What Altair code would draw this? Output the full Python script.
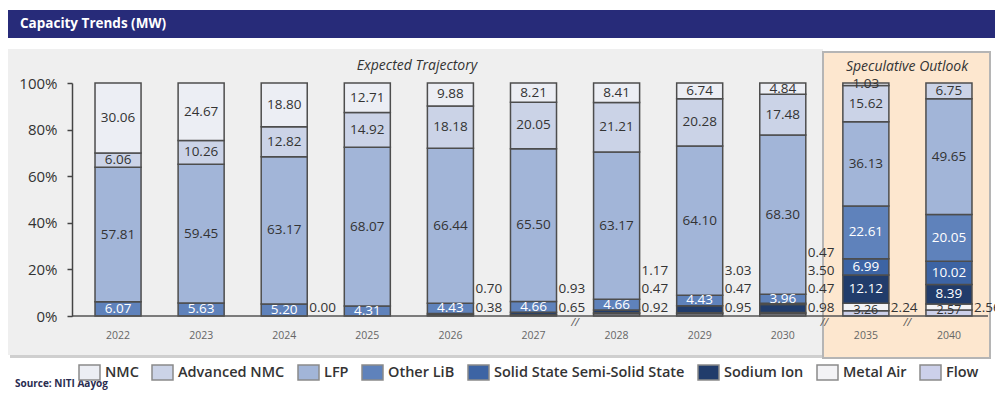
import altair as alt
import pandas as pd

# ---------------- data ----------------
years = ["2022", "2023", "2024", "2025", "2026", "2027", "2028", "2029", "2030", "2035", "2040"]
series = ["NMC", "Advanced NMC", "LFP", "Other LiB", "Solid State Semi-Solid State",
          "Sodium Ion", "Metal Air", "Flow"]
colors = ["#eceef4", "#cbd3e7", "#a2b5d8", "#5f82bb", "#3d64a4", "#213c6b", "#f3f3f6", "#ccd0ea"]

nmc = [30.06, 24.67, 18.80, 12.71, 9.88, 8.21, 8.41, 6.74, 4.84, 1.03, None]
adv_nmc = [6.06, 10.26, 12.82, 14.92, 18.18, 20.05, 21.21, 20.28, 17.48, 15.62, 6.75]
lfp = [57.81, 59.45, 63.17, 68.07, 66.44, 65.50, 63.17, 64.10, 68.30, 36.13, 49.65]
other_lib = [6.07, 5.63, 5.20, 4.31, 4.43, 4.66, 4.66, 4.43, 3.96, 22.61, 20.05]
solid_state = [None, None, None, None, None, None, None, None, 0.47, 6.99, 10.02]
sodium_ion = [None, None, None, None, 0.70, 0.93, 1.17, 3.03, 3.50, 12.12, 8.39]
metal_air = [None, None, None, None, None, None, 0.47, 0.47, 0.47, 3.26, 2.57]
flow = [None, None, 0.00, None, 0.38, 0.65, 0.92, 0.95, 0.98, 2.24, 2.56]

break_after = ["2027", "2030", "2035"]

values_by_series = [nmc, adv_nmc, lfp, other_lib, solid_state, sodium_ion, metal_air, flow]
small_series = {"Solid State Semi-Solid State", "Sodium Ion", "Metal Air", "Flow"}
light_series = {"Other LiB", "Solid State Semi-Solid State", "Sodium Ion"}

rows = []
for s_idx, (name, vals) in enumerate(zip(series, values_by_series)):
    for yr, v in zip(years, vals):
        if v is None:
            continue
        rows.append({
            "year": yr, "series": name, "value": v,
            "rank": len(series) - 1 - s_idx,
            "label": f"{v:.2f}",
            "outside": bool(name == "Flow" or (int(yr) <= 2030 and name in small_series)),
            "light": name in light_series,
            "low": name == "Metal Air",
        })
df = pd.DataFrame(rows)
df = df.sort_values(["year", "rank"]).reset_index(drop=True)
df["slot"] = 0
out_mask = df["outside"]
df.loc[out_mask, "slot"] = df[out_mask].groupby("year").cumcount()

FONT = "Open Sans"

# ---------------- decorations ----------------
one = alt.Chart(pd.DataFrame({"k": [0]}))

header = one.mark_rect(color="#272b79").encode(
    x=alt.value(-64), x2=alt.value(923), y=alt.value(-73), y2=alt.value(-45))
header_text = one.mark_text(align="left", baseline="middle", color="white",
                            fontWeight="bold", fontSize=13.5, font=FONT).encode(
    x=alt.value(-52), y=alt.value(-59), text=alt.value("Capacity Trends (MW)"))

shadow = one.mark_rect(color="#cfcfcf").encode(
    x=alt.value(-62), x2=alt.value(753), y=alt.value(-32), y2=alt.value(275))
gray_panel = one.mark_rect(color="#efefef").encode(
    x=alt.value(-64), x2=alt.value(751), y=alt.value(-34), y2=alt.value(272))
peach_panel = one.mark_rect(fill="#fde7cf", stroke="#b5b5b5", strokeWidth=2).encode(
    x=alt.value(751), x2=alt.value(918), y=alt.value(-31), y2=alt.value(275))

exp_text = one.mark_text(fontStyle="italic", fontSize=14, font=FONT, color="#333").encode(
    x=alt.value(345), y=alt.value(-17), text=alt.value("Expected Trajectory"))
spec_text = one.mark_text(fontStyle="italic", fontSize=14, font=FONT, color="#333").encode(
    x=alt.value(835), y=alt.value(-16), text=alt.value("Speculative Outlook"))
source_text = one.mark_text(align="left", baseline="middle", fontWeight="bold", fontSize=10,
                            font=FONT, color="#2a2c50").encode(
    x=alt.value(-57), y=alt.value(301), text=alt.value("Source: NITI Aayog"))

baseline = one.mark_rule(color="#555555", strokeWidth=1.5).encode(
    x=alt.value(0), x2=alt.value(916), y=alt.value(233))

# ---------------- bars ----------------
xenc = alt.X("year:N", sort=years,
             scale=alt.Scale(paddingInner=0.446, paddingOuter=0.277),
             axis=alt.Axis(title=None, labelAngle=0, domain=False, ticks=False,
                           labelFontSize=10.5, labelColor="#666", labelPadding=14,
                           labelFont=FONT, zindex=1))

stacked = alt.Chart(df).transform_stack(
    stack="value", groupby=["year"],
    sort=[alt.SortField("rank", order="ascending")], as_=["v0", "v1"])

bars = stacked.mark_bar(stroke="#4d4d4d", strokeWidth=1.5).encode(
    x=xenc,
    y=alt.Y("v0:Q", scale=alt.Scale(domain=[0, 100], nice=False),
            axis=alt.Axis(title=None, values=[0, 20, 40, 60, 80, 100],
                          labelExpr="datum.value + '%'", tickSize=5, tickColor="#444",
                          domainColor="#444", domainWidth=1.5, tickWidth=1.5,
                          labelFontSize=15, labelColor="#333", labelPadding=10,
                          grid=False, labelFont=FONT, zindex=1)),
    y2="v1:Q",
    color=alt.Color("series:N", scale=alt.Scale(domain=series, range=colors),
                    legend=alt.Legend(orient="none", legendX=9, legendY=281,
                                      direction="horizontal", title=None,
                                      symbolType="M-1.4,-1L1.4,-1L1.4,1L-1.4,1Z",
                                      symbolSize=225, symbolStrokeColor="#8a8a8a",
                                      symbolStrokeWidth=1.5, labelFontSize=14.5,
                                      labelFont=FONT, labelFontWeight=600,
                                      labelColor="#333", labelOffset=7, labelLimit=0,
                                      columnPadding=10, padding=0, symbolOffset=0)),
)

inside_labels = stacked.transform_filter("!datum.outside").transform_calculate(
    mid="datum.low ? datum.v0 + 0.2 : (datum.v0 + datum.v1) / 2").mark_text(
    font=FONT).encode(
    x=alt.X("year:N", sort=years),
    y=alt.Y("mid:Q"),
    text="label:N",
    size=alt.condition("datum.low", alt.value(12.5), alt.value(13.5)),
    color=alt.condition("datum.light", alt.value("white"), alt.value("#333333")),
)

outside_labels = alt.Chart(df).transform_filter("datum.outside").transform_calculate(
    ly="3.6 + datum.slot * 7.85").mark_text(
    align="left", dx=25, fontSize=13.5, font=FONT, color="#333333").encode(
    x=alt.X("year:N", sort=years),
    y=alt.Y("ly:Q"),
    text="label:N",
)

breaks = alt.Chart(pd.DataFrame({"year": break_after})).mark_text(
    dx=41.5, fontStyle="italic", fontSize=11, font=FONT, color="#555").encode(
    x=alt.X("year:N", sort=years), y=alt.value(240), text=alt.value("//"))

chart = alt.layer(
    header, header_text, shadow, gray_panel, peach_panel, exp_text, spec_text,
    source_text, bars, inside_labels, outside_labels, baseline, breaks,
).properties(
    width=923, height=233,
    padding={"left": 64, "top": 75, "right": 0, "bottom": 76},
    autosize=alt.AutoSizeParams(type="none"),
).configure_view(stroke=None)

chart.save("out.html", embed_options={"renderer": "svg", "actions": False})
